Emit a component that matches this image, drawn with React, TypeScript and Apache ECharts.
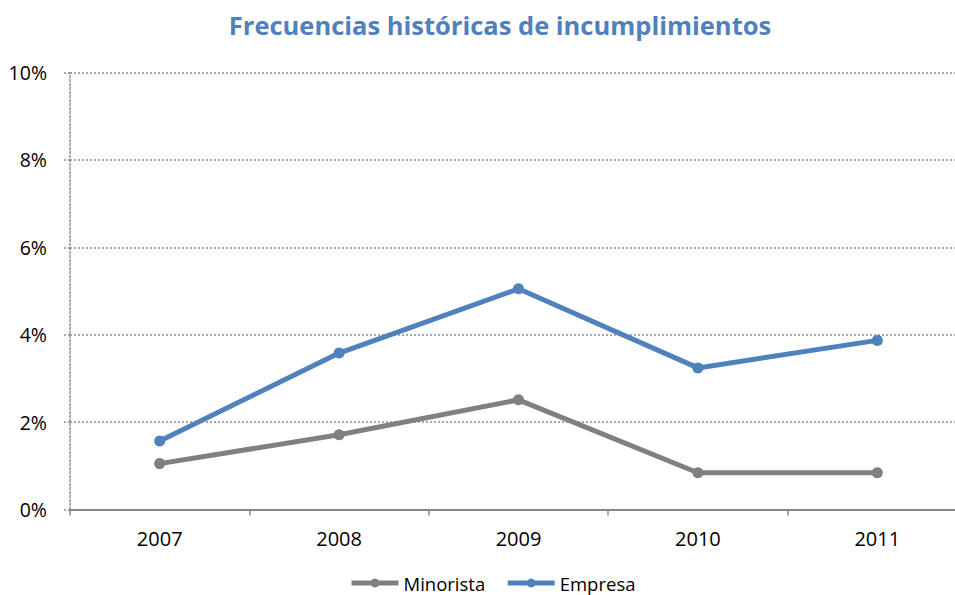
import React, { useEffect, useRef } from "react";
import * as echarts from "echarts";

const categories = ["2007", "2008", "2009", "2010", "2011"];
const minorista = [1.05, 1.71, 2.51, 0.84, 0.84];
const empresa = [1.57, 3.58, 5.05, 3.24, 3.87];
const seriesNames = ["Minorista", "Empresa"];

export default function App() {
  const ref = useRef<HTMLDivElement>(null);
  useEffect(() => {
    if (!ref.current) return;
    const chart = echarts.init(ref.current, null, { renderer: "svg" });
    const font = "'Open Sans', 'Noto Sans', sans-serif";
    chart.setOption({
      animation: false,
      backgroundColor: "#fff",
      title: {
        text: "Frecuencias históricas de incumplimientos",
        left: 495,
        textAlign: "center",
        top: 7,
        textStyle: { color: "#4F81BD", fontSize: 25.5, fontWeight: "bold", fontFamily: font },
      },
      legend: {
        top: 568,
        left: 344,
        itemWidth: 47,
        itemHeight: 11,
        itemGap: 20,
        itemTextGap: 4,
        lineStyle: { width: 5 },
        textStyle: { fontSize: 18.5, color: "#000", fontFamily: font, lineHeight: 20 },
        data: seriesNames,
      },
      grid: { left: 70, top: 72.5, width: 897, height: 437, containLabel: false },
      xAxis: {
        type: "category",
        data: categories,
        boundaryGap: true,
        axisLine: { lineStyle: { color: "#868686", width: 2 } },
        axisTick: { show: true, length: 6, lineStyle: { color: "#868686", width: 1.5 } },
        axisLabel: { color: "#000", fontSize: 20, margin: 19, fontFamily: font },
        splitLine: { show: false },
      },
      yAxis: {
        type: "value",
        min: 0,
        max: 10,
        interval: 2,
        axisLine: { show: true, lineStyle: { color: "#8c8c8c", type: [2, 2], width: 1.5 } },
        axisTick: { show: true, length: 8, lineStyle: { color: "#8c8c8c", type: [2, 2], width: 1.5 } },
        axisLabel: { color: "#000", fontSize: 19.5, margin: 23, formatter: "{value}%", fontFamily: font },
        splitLine: { show: true, lineStyle: { color: "#8c8c8c", type: [2, 2], width: 1.5 } },
      },
      series: [
        {
          name: seriesNames[0],
          type: "line",
          data: minorista,
          symbol: "circle",
          symbolSize: 11,
          lineStyle: { color: "#808080", width: 5 },
          itemStyle: { color: "#808080" },
        },
        {
          name: seriesNames[1],
          type: "line",
          data: empresa,
          symbol: "circle",
          symbolSize: 11,
          lineStyle: { color: "#4F81BD", width: 5 },
          itemStyle: { color: "#4F81BD" },
        },
      ],
    });
    return () => chart.dispose();
  }, []);
  return (
    <div style={{ position: "fixed", left: 0, top: 0, width: 955, height: 595, overflow: "hidden" }}>
      <div ref={ref} style={{ width: 1000, height: 595 }} />
    </div>
  );
}
